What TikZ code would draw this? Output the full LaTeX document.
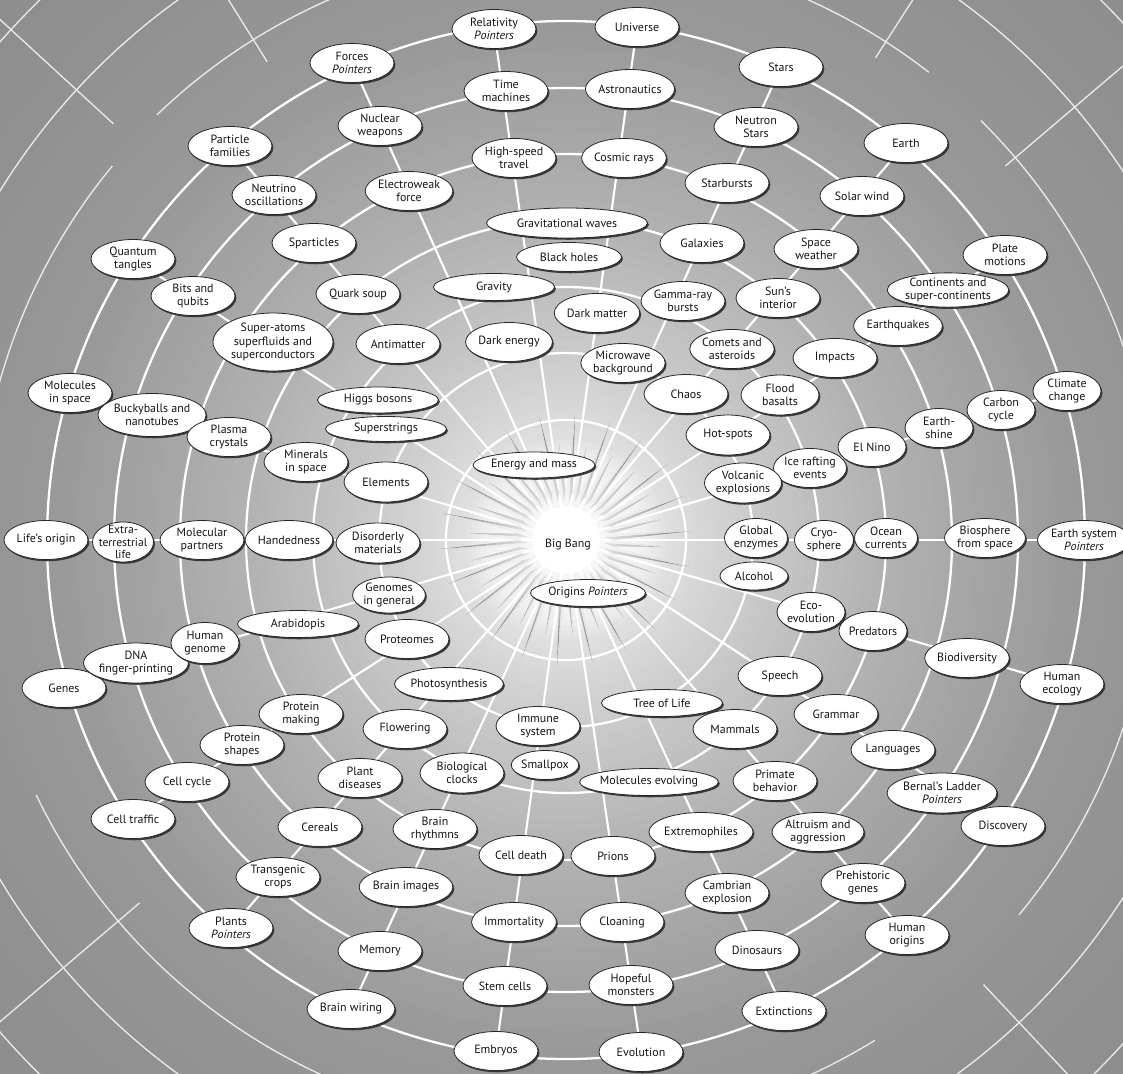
\documentclass[tikz,border=0pt]{standalone}
\usepackage{fontspec}
\setmainfont{PT Sans}
\usetikzlibrary{shapes.geometric,shadows,calc}
\pgfdeclarelayer{bglayer}
\pgfdeclarelayer{weblayer}
\pgfsetlayers{bglayer,weblayer,main}
\newcommand\fs{\fontsize{6.8}{7.6}\selectfont}
\tikzset{
 nd/.style={ellipse, draw=black!85, line width=0.45pt, fill=white, inner sep=0pt,
   minimum width=1.68cm, minimum height=0.78cm, align=center, font=\fs, text=black!92,
   drop shadow={shadow xshift=0.8pt, shadow yshift=-1pt, opacity=0.95, fill=black!80}},
 wd/.style={nd, minimum width=2.42cm, minimum height=0.54cm},
 sm/.style={nd, minimum width=1.36cm},
 ring/.style={draw=white, line width=1.3pt},
 web/.style={draw=white, line width=1.2pt},
 deco/.style={draw=white!92!black, line width=0.75pt},
}
\begin{document}
\begin{tikzpicture}[x=0.02cm,y=0.02cm]
\useasboundingbox (0,0) rectangle (1123,-1073);
\coordinate (C) at (566,-540);

% ---------- outer ring ----------
\node[nd] (rel) at (494,-29) {Relativity\\\textit{Pointers}};
\node[nd] (uni) at (637,-27) {Universe};
\node[nd] (stars) at (781,-67) {Stars};
\node[nd] (earth) at (906,-143) {Earth};
\node[nd] (plate) at (1005,-255) {Plate\\motions};
\node[sm] (climate) at (1067,-391) {Climate\\change};
\node[nd] (esys) at (1084,-540) {Earth system\\\textit{Pointers}};
\node[nd] (hecol) at (1062,-684) {Human\\ecology};
\node[nd] (disc) at (1003,-826) {Discovery};
\node[nd] (horig) at (907,-935) {Human\\origins};
\node[nd] (extinct) at (784,-1011) {Extinctions};
\node[nd] (evol) at (641,-1052) {Evolution};
\node[nd] (embryos) at (496,-1051) {Embryos};
\node[nd] (bwiring) at (351,-1009) {Brain wiring};
\node[nd] (plants) at (231,-928) {Plants\\\textit{Pointers}};
\node[nd] (ctraffic) at (133,-819) {Cell traffic};
\node[nd] (genes) at (64,-688) {Genes};
\node[nd] (lorigin) at (46,-540) {Life's origin};
\node[nd] (molspace) at (70,-393) {Molecules\\in space};
\node[nd] (qtangles) at (133,-259) {Quantum\\tangles};
\node[nd] (pfam) at (230,-146) {Particle\\families};
\node[nd] (forces) at (352,-63) {Forces\\\textit{Pointers}};

% ---------- ring 2 ----------
\node[nd] (timem) at (506,-91) {Time\\machines};
\node[nd] (astro) at (630,-89) {Astronautics};
\node[nd] (nstars) at (756,-127) {Neutron\\Stars};
\node[nd] (solarw) at (862,-196) {Solar wind};
\node[nd, minimum width=2.34cm, minimum height=0.66cm] (contin) at (948,-290) {Continents and\\super-continents};
\node[sm] (carbon) at (1001,-410) {Carbon\\cycle};
\node[nd, minimum width=1.62cm] (biosph) at (985,-538) {Biosphere\\from space};
\node[nd] (biodiv) at (967,-658) {Biodiversity};
\node[nd, minimum width=1.94cm, minimum height=0.8cm] (bernal) at (942,-793) {Bernal's Ladder\\\textit{Pointers}};
\node[nd] (prehist) at (863,-883) {Prehistoric\\genes};
\node[nd] (dinos) at (757,-950) {Dinosaurs};
\node[nd] (hopeful) at (631,-985) {Hopeful\\monsters};
\node[nd] (stemc) at (505,-986) {Stem cells};
\node[nd] (memory) at (380,-951) {Memory};
\node[nd] (transg) at (278,-877) {Transgenic\\crops};
\node[nd] (ccycle) at (187,-782) {Cell cycle};
\node[nd, minimum height=0.8cm] (dna) at (136,-663) {DNA\\finger-printing};
\node[nd, minimum width=1.22cm, minimum height=0.8cm, inner xsep=-1.6pt, inner ysep=-2.6pt,
      font=\fontsize{6.6}{6.9}\selectfont] (extra) at (123,-542) {Extra-\\terrestrial\\life};
\node[nd, minimum width=1.74cm, minimum height=0.86cm] (bucky) at (152,-415) {Buckyballs and\\nanotubes};
\node[nd] (bits) at (193,-296) {Bits and\\qubits};
\node[nd] (neutrino) at (274,-195) {Neutrino\\oscillations};
\node[nd] (nuclear) at (380,-126) {Nuclear\\weapons};

% ---------- ring 3 ----------
\node[nd] (hspeed) at (514,-158) {High-speed\\travel};
\node[nd] (cosmic) at (624,-158) {Cosmic rays};
\node[nd] (starb) at (727,-183) {Starbursts};
\node[nd] (spacew) at (816,-249) {Space\\weather};
\node[nd] (quakes) at (898,-326) {Earthquakes};
\node[sm] (eshine) at (939,-428) {Earth-\\shine};
\node[nd] (lang) at (893,-750) {Languages};
\node[nd] (altru) at (818,-832) {Altruism and\\aggression};
\node[nd] (cambrian) at (727,-893) {Cambrian\\explosion};
\node[nd] (cloan) at (622,-922) {Cloaning};
\node[nd] (immort) at (514,-922) {Immortality};
\node[nd] (bimages) at (406,-887) {Brain images};
\node[nd] (cereals) at (320,-827) {Cereals};
\node[nd] (pshapes) at (242,-745) {Protein\\shapes};
\node[sm, minimum height=0.82cm] (hgenome) at (205,-643) {Human\\genome};
\node[nd] (molpart) at (202,-540) {Molecular\\partners};
\node[nd] (plasma) at (229,-437) {Plasma\\crystals};
\node[nd, minimum width=2.4cm, minimum height=1.16cm] (superatoms) at (273,-342) {Super-atoms\\superfluids and\\superconductors};
\node[nd] (sparticles) at (314,-243) {Sparticles};
\node[nd] (electroweak) at (409,-191) {Electroweak\\force};

% ---------- ring 4 ----------
\node[wd, minimum width=3.22cm, minimum height=0.6cm] (gwaves) at (567,-223) {Gravitational waves};
\node[nd] (galaxies) at (702,-243) {Galaxies};
\node[nd] (suns) at (778,-298) {Sun's\\interior};
\node[nd] (impacts) at (835,-358) {Impacts};
\node[sm] (elnino) at (872,-447) {El Nino};
\node[nd, minimum width=1.26cm] (ocean) at (886,-538) {Ocean\\currents};
\node[sm] (predators) at (873,-631) {Predators};
\node[nd] (grammar) at (836,-714) {Grammar};
\node[nd] (primate) at (775,-781) {Primate\\behavior};
\node[nd] (extremo) at (701,-832) {Extremophiles};
\node[nd] (prions) at (613,-856) {Prions};
\node[nd] (celldeath) at (521,-855) {Cell death};
\node[nd] (brhythm) at (435,-829) {Brain\\rhythmns};
\node[nd] (pdiseases) at (360,-778) {Plant\\diseases};
\node[nd] (pmaking) at (301,-714) {Protein\\making};
\node[wd] (arabid) at (298,-624) {Arabidopis};
\node[nd] (handed) at (289,-540) {Handedness};
\node[nd] (minerals) at (306,-462) {Minerals\\in space};
\node[nd] (quark) at (358,-294) {Quark soup};

% ---------- ring 5 ----------
\node[wd, minimum width=2.1cm, minimum height=0.58cm] (bholes) at (569,-257) {Black holes};
\node[wd] (gravity) at (494,-287) {Gravity};
\node[nd] (dmatter) at (597,-313) {Dark matter};
\node[nd] (gamma) at (683,-301) {Gamma-ray\\bursts};
\node[nd] (comets) at (732,-349) {Comets and\\asteroids};
\node[nd, minimum width=1.56cm, minimum height=0.8cm] (flood) at (780,-395) {Flood\\basalts};
\node[sm] (icer) at (810,-468) {Ice rafting\\events};
\node[nd, minimum width=1.18cm] (cryo) at (824,-540) {Cryo-\\sphere};
\node[sm] (ecoevo) at (811,-612) {Eco-\\evolution};
\node[nd] (speech) at (780,-676) {Speech};
\node[nd] (mammals) at (735,-729) {Mammals};
\node[wd, minimum width=2.7cm] (molevol) at (649,-782) {Molecules evolving};
\node[nd, minimum width=1.34cm, minimum height=0.58cm] (smallpox) at (545,-765) {Smallpox};
\node[nd, minimum height=0.8cm] (bioclocks) at (462,-773) {Biological\\clocks};
\node[nd] (flowering) at (405,-729) {Flowering};
\node[nd] (antimatter) at (398,-344) {Antimatter};
\node[wd, minimum height=0.52cm] (higgs) at (378,-400) {Higgs bosons};

% ---------- ring 6 ----------
\node[nd] (denergy) at (509,-342) {Dark energy};
\node[nd] (microwave) at (623,-363) {Microwave\\background};
\node[nd] (chaos) at (686,-394) {Chaos};
\node[nd, minimum height=0.8cm] (hotspots) at (728,-435) {Hot-spots};
\node[nd, minimum width=1.32cm, minimum height=0.8cm] (volcanic) at (743,-483) {Volcanic\\explosions};
\node[nd, minimum width=1.26cm] (genz) at (756,-538) {Global\\enzymes};
\node[nd, minimum width=1.36cm, minimum height=0.56cm] (alcohol) at (754,-576) {Alcohol};
\node[wd] (treelife) at (662,-703) {Tree of Life};
\node[nd] (immune) at (538,-726) {Immune\\system};
\node[nd, minimum width=1.64cm, minimum height=0.66cm] (photo) at (449,-684) {Photosynthesis};
\node[nd] (proteomes) at (407,-639) {Proteomes};
\node[nd, minimum width=1.36cm, minimum height=0.72cm] (genomes) at (389,-595) {Genomes\\in general};
\node[nd, minimum height=0.8cm] (disorder) at (378,-543) {Disorderly\\materials};
\node[nd, minimum height=0.8cm] (elements) at (386,-482) {Elements};
\node[wd, minimum height=0.5cm] (superstr) at (386,-429) {Superstrings};

% ---------- centre ----------
\node[wd, minimum width=2.44cm, minimum height=0.52cm] (emass) at (534,-465) {Energy and mass};
\node[wd, minimum width=2.3cm] (origins) at (588,-593) {Origins \textit{Pointers}};
\node[font=\fs, text=black!92] (bigbang) at (568,-545) {Big Bang};

% ---------- background ----------
\begin{pgfonlayer}{bglayer}
 \clip (0,0) rectangle (1123,-1073);
 \fill[black!45] (0,0) rectangle (1123,-1073);
 \foreach \ra/\ga/\rb/\gb in {820/0.55/640/0.575, 640/0.575/520/0.60, 520/0.60/420/0.645,
     420/0.645/320/0.70, 320/0.70/220/0.77, 220/0.77/150/0.83, 150/0.83/100/0.88,
     100/0.88/55/0.95, 55/0.95/0/1.0}{
   \foreach \t in {0,0.1,...,0.95}{
     \pgfmathsetmacro\rr{\ra+(\rb-\ra)*\t}
     \pgfmathsetmacro\gg{\ga+(\gb-\ga)*\t}
     \definecolor{bgc}{gray}{\gg}
     \fill[bgc] (C) circle[radius=\rr];
   }
 }
 % top left
 \draw[deco] ($(C)+(110:665)$) arc[start angle=110, end angle=170, radius=665];
 \draw[deco] ($(C)+(100:590)$) arc[start angle=100, end angle=133.9, radius=590];
 \draw[deco] ($(C)+(140.5:588)$) arc[start angle=140.5, end angle=175, radius=588];
 \draw[deco] ($(C)+(137.4:615)$) -- ($(C)+(137.4:850)$);
 \draw[deco] ($(C)+(122:564)$) -- ($(C)+(122:720)$);
 \draw[deco] ($(C)+(125:754)$) arc[start angle=125, end angle=150, radius=754];
 % top right
 \draw[deco] ($(C)+(52.2:592)$) arc[start angle=52.2, end angle=80, radius=592];
 \draw[deco] ($(C)+(57.3:573)$) -- ($(C)+(57.3:720)$);
 \draw[deco] ($(C)+(15:668)$) arc[start angle=15, end angle=65, radius=668];
 \draw[deco] ($(C)+(5:590)$) arc[start angle=5, end angle=45.3, radius=590];
 \draw[deco] ($(C)+(40.4:577)$) -- ($(C)+(40.4:850)$);
 \draw[deco] ($(C)+(35:760)$) arc[start angle=35, end angle=55, radius=760];
 % bottom left
 \draw[deco] ($(C)+(205.7:588)$) arc[start angle=205.7, end angle=255, radius=588];
 \draw[deco] ($(C)+(195:660)$) arc[start angle=195, end angle=250, radius=660];
 \draw[deco] ($(C)+(220.4:560)$) -- ($(C)+(220.4:850)$);
 \draw[deco] ($(C)+(210:750)$) arc[start angle=210, end angle=240, radius=750];
 % bottom right
 \draw[deco] ($(C)+(-39.6:588)$) arc[start angle=-39.6, end angle=-5, radius=588];
 \draw[deco] ($(C)+(-75:588)$) arc[start angle=-75, end angle=-58.3, radius=588];
 \draw[deco] ($(C)+(-65:662)$) arc[start angle=-65, end angle=-20, radius=662];
 \draw[deco] ($(C)+(-46.8:610)$) -- ($(C)+(-46.8:850)$);
 \draw[deco] ($(C)+(-55:751)$) arc[start angle=-55, end angle=-35, radius=751];
\end{pgfonlayer}

% ---------- web of rings and spokes ----------
\begin{pgfonlayer}{weblayer}
 \foreach \r in {120,187,253,320,386,452,519}
   \draw[ring] (C) circle[radius=\r];
 \foreach \n in {rel,uni,stars,earth,plate,climate,esys,hecol,disc,horig,extinct,
                 evol,embryos,bwiring,plants,ctraffic,genes,lorigin,molspace,qtangles,pfam,forces}
   \draw[web] (C) -- (\n.center);
 % star spikes
 \foreach \k in {0,...,21}{
  \foreach \off/\len in {4.1/126,12.3/96}{
   \pgfmathsetmacro\a{\k*360/22+\off}
   \fill[black!48] ($(C)+(\a-3.8:48)$) -- ($(C)+(\a:\len)$) -- ($(C)+(\a:38)$) -- cycle;
   \fill[black!14] ($(C)+(\a+3.8:48)$) -- ($(C)+(\a:\len)$) -- ($(C)+(\a:38)$) -- cycle;
  }
 }
 \foreach \r in {100,95,...,36}
   \fill[white,opacity=0.11] (C) circle[radius=\r];
 \fill[white] (C) circle[radius=34];
\end{pgfonlayer}
\end{tikzpicture}
\end{document}
